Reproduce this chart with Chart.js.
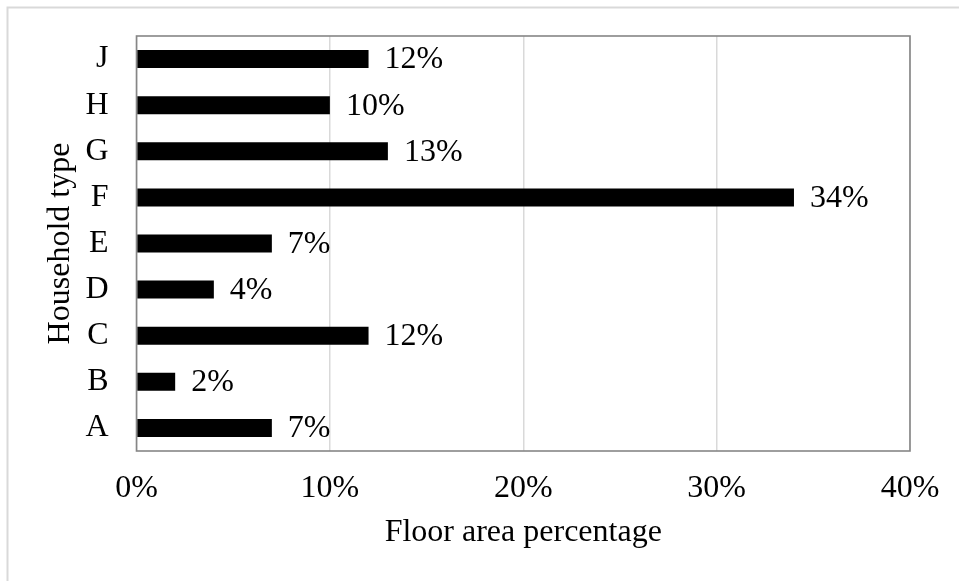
<!DOCTYPE html>
<html>
<head>
<meta charset="utf-8">
<script src="https://cdn.jsdelivr.net/npm/chart.js@4/dist/chart.umd.min.js"></script>
<style>
  html, body { margin: 0; padding: 0; background: #ffffff; }
  #wrap { width: 959px; height: 581px; }
</style>
</head>
<body>
<div id="wrap"><canvas id="c" width="959" height="581"></canvas></div>
<script>
// Household types, listed top to bottom
const householdTypes = ['J', 'H', 'G', 'F', 'E', 'D', 'C', 'B', 'A'];
// Share of floor area per household type (%)
const floorAreaShare = [12, 10, 13, 34, 7, 4, 12, 2, 7];
// Value axis ticks (%)
const axisTicks = [0, 10, 20, 30, 40];

const FONT = "'Liberation Serif', 'Times New Roman', serif";

// Percentage labels at the end of each bar
const barValueLabels = {
  id: 'barValueLabels',
  afterDatasetsDraw(chart) {
    const { ctx } = chart;
    const meta = chart.getDatasetMeta(0);
    ctx.save();
    ctx.font = '32px ' + FONT;
    ctx.fillStyle = '#000000';
    ctx.textAlign = 'left';
    ctx.textBaseline = 'middle';
    meta.data.forEach((bar, i) => {
      const v = chart.data.datasets[0].data[i];
      ctx.fillText(v + '%', bar.x + 16, bar.y + 1);
    });
    ctx.restore();
  }
};

// Plot-area frame and the light outer border of the figure
const frames = {
  id: 'frames',
  afterDraw(chart) {
    const { ctx, chartArea: a } = chart;
    ctx.save();
    ctx.strokeStyle = '#868686';
    ctx.lineWidth = 1.6;
    ctx.strokeRect(a.left, a.top, a.right - a.left, a.bottom - a.top);
    ctx.strokeStyle = '#d9d9d9';
    ctx.lineWidth = 2;
    ctx.beginPath();
    ctx.moveTo(7.5, chart.height);
    ctx.lineTo(7.5, 7.5);
    ctx.lineTo(chart.width, 7.5);
    ctx.stroke();
    ctx.restore();
  }
};

new Chart(document.getElementById('c'), {
  type: 'bar',
  data: {
    labels: householdTypes,
    datasets: [{
      data: floorAreaShare,
      backgroundColor: '#000000',
      borderWidth: 0,
      categoryPercentage: 1,
      barPercentage: 0.39
    }]
  },
  options: {
    indexAxis: 'y',
    responsive: false,
    animation: false,
    devicePixelRatio: 1,
    layout: { padding: { left: 0, top: 36, right: 49, bottom: 0 } },
    plugins: { legend: { display: false }, tooltip: { enabled: false } },
    scales: {
      x: {
        min: axisTicks[0],
        max: axisTicks[axisTicks.length - 1],
        afterBuildTicks(scale) { scale.ticks = axisTicks.map(v => ({ value: v })); },
        afterFit(scale) { scale.height = 130; },
        border: { display: false },
        grid: { color: '#d9d9d9', lineWidth: 1.5, drawTicks: false },
        ticks: {
          padding: 18,
          color: '#000000',
          font: { family: FONT, size: 32 },
          callback: v => v + '%'
        },
        title: {
          display: true,
          text: 'Floor area percentage',
          color: '#000000',
          font: { family: FONT, size: 32 },
          padding: { top: 0, bottom: 29 }
        }
      },
      y: {
        afterFit(scale) {
          scale.width = 136.5;
          scale.paddingTop = 0;
          scale.paddingBottom = 0;
        },
        border: { display: false },
        grid: { display: false, drawTicks: false },
        ticks: {
          padding: 28,
          color: '#000000',
          font: { family: FONT, size: 32 }
        },
        title: {
          display: true,
          text: 'Household type',
          color: '#000000',
          font: { family: FONT, size: 32 },
          padding: { top: 41, bottom: 0 }
        }
      }
    }
  },
  plugins: [barValueLabels, frames]
});
</script>
</body>
</html>
